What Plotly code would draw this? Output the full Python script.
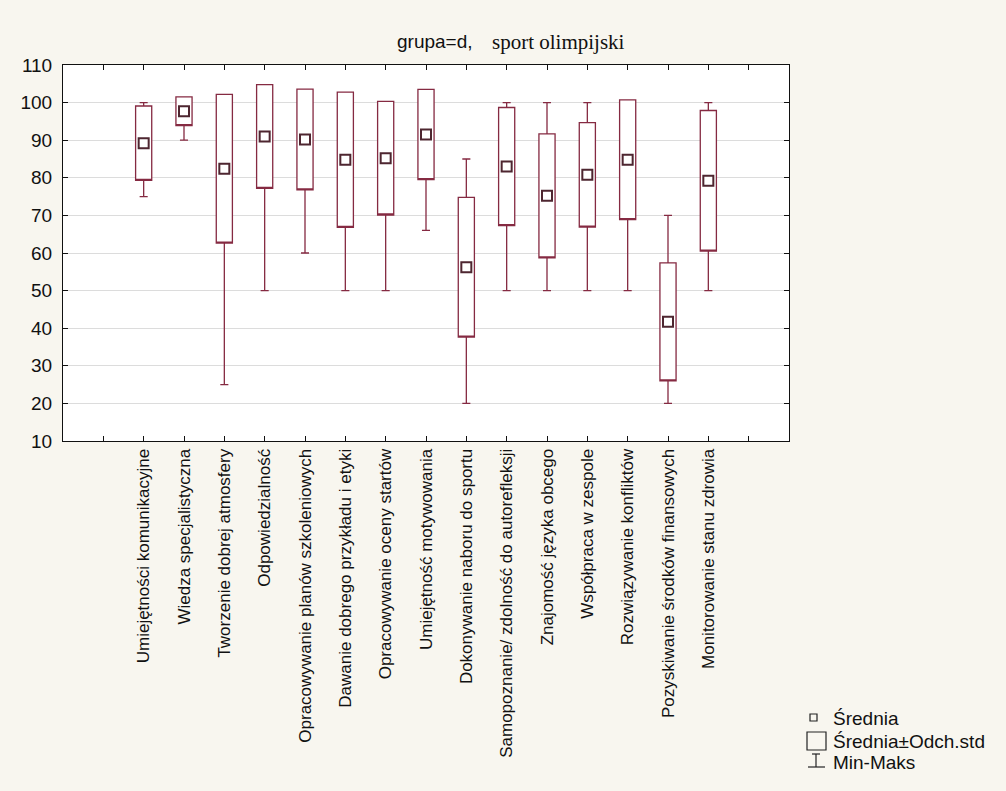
import plotly.graph_objects as go

# Competence ratings, group d (Olympic sport): mean, standard deviation, min, max
categories = [
    "Umiejętności komunikacyjne",
    "Wiedza specjalistyczna",
    "Tworzenie dobrej atmosfery",
    "Odpowiedzialność",
    "Opracowywanie planów szkoleniowych",
    "Dawanie dobrego przykładu i etyki",
    "Opracowywanie oceny startów",
    "Umiejętność motywowania",
    "Dokonywanie naboru do sportu",
    "Samopoznanie/ zdolność do autorefleksji",
    "Znajomość języka obcego",
    "Współpraca w zespole",
    "Rozwiązywanie konfliktów",
    "Pozyskiwanie środków finansowych",
    "Monitorowanie stanu zdrowia",
]
means = [89.2, 97.7, 82.4, 91.0, 90.2, 84.8, 85.2, 91.5, 56.2, 83.0, 75.2, 80.8, 84.8, 41.7, 79.2]
sds = [9.9, 3.8, 19.8, 13.8, 13.4, 18.0, 15.1, 12.0, 18.6, 15.7, 16.5, 13.9, 15.9, 15.7, 18.7]
mins = [75, 90, 25, 50, 60, 50, 50, 66, 20, 50, 50, 50, 50, 20, 50]
maxs = [100, 100, 100, 100, 100, 100, 100, 100, 85, 100, 100, 100, 100, 70, 100]

y_ticks = [10, 20, 30, 40, 50, 60, 70, 80, 90, 100, 110]

# category slots 1..15, with empty slots 0 and 16 at both ends
positions = list(range(1, len(categories) + 1))
tick_vals = list(range(0, len(categories) + 2))
tick_text = [""] + categories + [""]

lo = [m - s for m, s in zip(means, sds)]
hi = [m + s for m, s in zip(means, sds)]
low_fence = [min(a, b) for a, b in zip(mins, lo)]
high_fence = [max(a, b) for a, b in zip(maxs, hi)]

LINE = "#852a42"
MEAN_COLOR = "#4e2630"
PAGE_BG = "#f8f6ef"
PLOT_BG = "#ffffff"

# plot area in pixels (page 1006 x 791)
L, R, T, B = 63, 789, 65, 441
W_PAGE, H_PAGE = 1006, 791


def px(x):
    return (x - L) / (R - L)


def py(y):
    return (B - y) / (B - T)


fig = go.Figure()

fig.add_trace(go.Box(
    x=positions,
    q1=lo,
    median=lo,
    q3=hi,
    lowerfence=low_fence,
    upperfence=high_fence,
    width=0.4,
    whiskerwidth=0.5,
    fillcolor="rgba(255,255,255,1)",
    line=dict(color=LINE, width=1.3),
    boxpoints=False,
    showlegend=False,
    hoverinfo="skip",
))

fig.add_trace(go.Scatter(
    x=positions,
    y=means,
    mode="markers",
    marker=dict(symbol="square-open", size=10, color=MEAN_COLOR, line=dict(width=2, color=MEAN_COLOR)),
    showlegend=False,
    hoverinfo="skip",
))

shapes = []
annotations = []

# title in two typefaces
annotations.append(dict(
    xref="paper", yref="paper", x=px(395), y=py(41), xanchor="left", yanchor="middle",
    text="grupa=d,", showarrow=False,
    font=dict(family="Liberation Sans", size=19, color="#111111"),
))
annotations.append(dict(
    xref="paper", yref="paper", x=px(490), y=py(42), xanchor="left", yanchor="middle",
    text="sport olimpijski", showarrow=False,
    font=dict(family="Liberation Serif", size=21, color="#111111"),
))

# legend drawn by hand
LEG_COLOR = "#222222"
shapes.append(dict(type="rect", xref="paper", yref="paper",
                   x0=px(810), x1=px(817), y0=py(721), y1=py(714),
                   line=dict(color=LEG_COLOR, width=1.2)))
shapes.append(dict(type="rect", xref="paper", yref="paper",
                   x0=px(807), x1=px(826), y0=py(750), y1=py(732),
                   line=dict(color=LEG_COLOR, width=1.2)))
shapes.append(dict(type="line", xref="paper", yref="paper",
                   x0=px(812), x1=px(820), y0=py(754), y1=py(754),
                   line=dict(color=LEG_COLOR, width=1.2)))
shapes.append(dict(type="line", xref="paper", yref="paper",
                   x0=px(816), x1=px(816), y0=py(754), y1=py(767),
                   line=dict(color=LEG_COLOR, width=1.2)))
shapes.append(dict(type="line", xref="paper", yref="paper",
                   x0=px(808), x1=px(825), y0=py(767), y1=py(767),
                   line=dict(color=LEG_COLOR, width=1.2)))

legend_items = [("Średnia", 718), ("Średnia±Odch.std", 741), ("Min-Maks", 762)]
for label, ypix in legend_items:
    annotations.append(dict(
        xref="paper", yref="paper", x=px(831), y=py(ypix), xanchor="left", yanchor="middle",
        text=label, showarrow=False,
        font=dict(family="Liberation Sans", size=19, color="#111111"),
    ))

fig.update_layout(
    width=W_PAGE,
    height=H_PAGE,
    autosize=False,
    margin=dict(l=L, r=W_PAGE - R, t=T, b=H_PAGE - B, pad=0),
    paper_bgcolor=PAGE_BG,
    plot_bgcolor=PLOT_BG,
    shapes=shapes,
    annotations=annotations,
    showlegend=False,
)

fig.update_xaxes(
    range=[-1, len(categories) + 2],
    tickmode="array",
    tickvals=tick_vals,
    ticktext=tick_text,
    tickangle=-90,
    ticks="inside",
    ticklen=5,
    tickcolor="#111111",
    showline=True,
    linecolor="#111111",
    linewidth=1,
    mirror="allticks",
    showgrid=False,
    zeroline=False,
    tickfont=dict(family="Liberation Sans", size=17, color="#111111"),
)

fig.update_yaxes(
    range=[10, 110],
    tickmode="array",
    tickvals=y_ticks,
    ticks="inside",
    ticklen=5,
    tickcolor="#111111",
    showline=True,
    linecolor="#111111",
    linewidth=1,
    mirror="allticks",
    showgrid=True,
    gridcolor="#dcdcdc",
    gridwidth=1,
    zeroline=False,
    ticklabelstandoff=6,
    tickfont=dict(family="Liberation Sans", size=19, color="#111111"),
)

fig.write_html("out.html")
